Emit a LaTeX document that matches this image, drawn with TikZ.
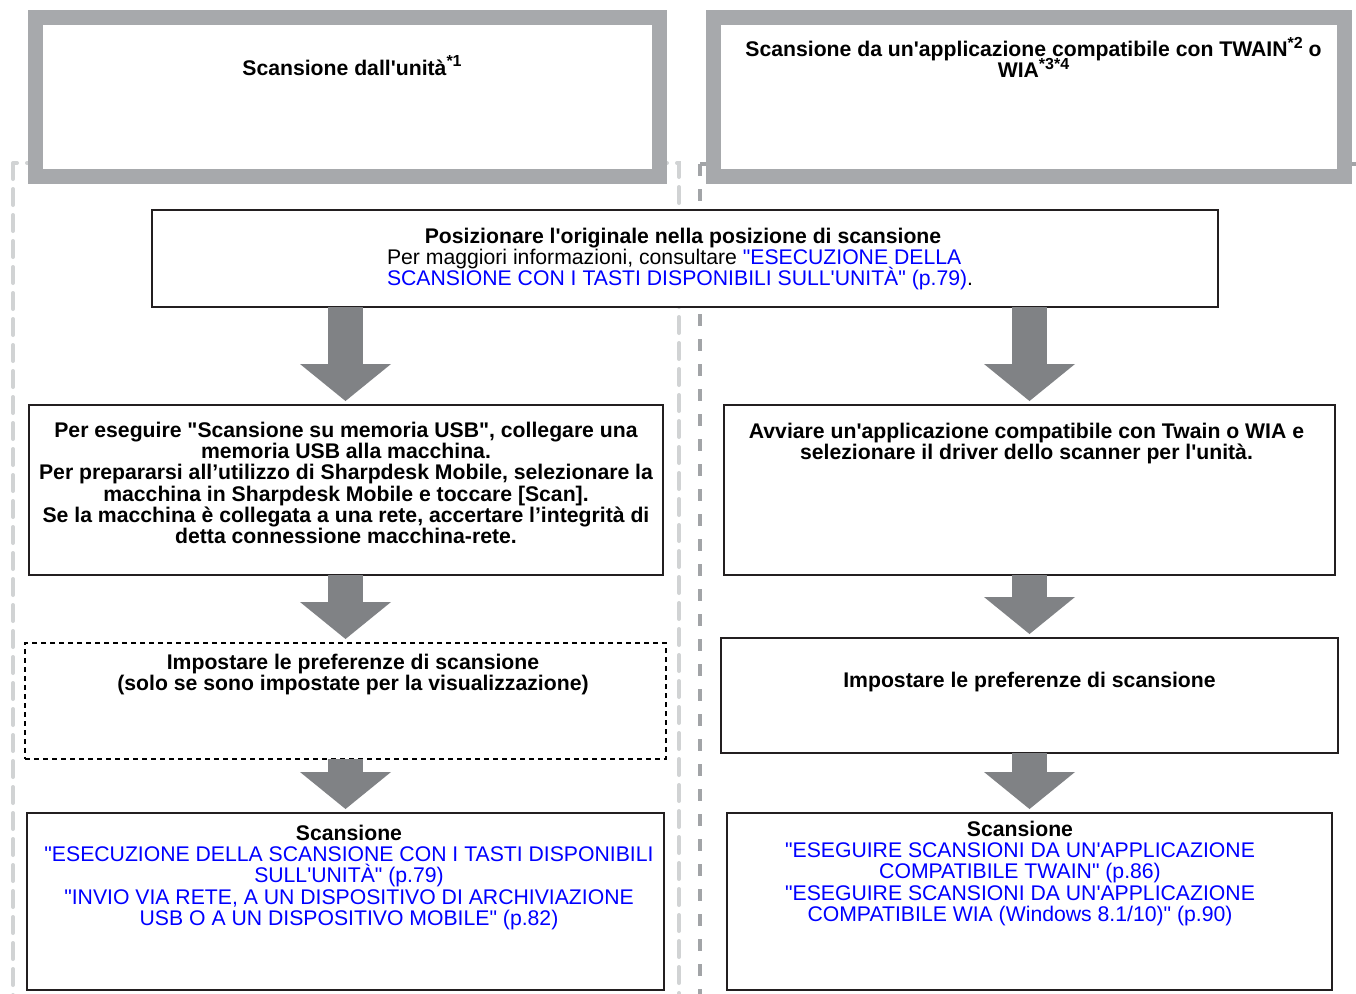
\documentclass[tikz,border=0pt]{standalone}
\usepackage{fontspec}
\newfontfamily\lsans{Liberation Sans}
\usetikzlibrary{arrows.meta}
\definecolor{hdrgray}{HTML}{A7A9AC}
\definecolor{arrgray}{HTML}{808285}
\definecolor{lightdash}{HTML}{D1D3D4}
\definecolor{darkdash}{HTML}{A2A4A7}
\definecolor{boxline}{HTML}{231F20}
\definecolor{linkblue}{HTML}{0000FF}
\newcommand{\lk}[1]{\textcolor{linkblue}{#1}}
\newcommand{\nolsk}{\setlength{\lineskiplimit}{-50pt}}
\newcommand{\sups}[1]{\raisebox{4.2pt}{\fontsize{8}{8}\selectfont #1}}
\begin{document}
\begin{tikzpicture}[x=0.5pt,y=-0.5pt,
  every node/.style={inner sep=0pt, outer sep=0pt},
  header/.style={draw=hdrgray, line width=7.5pt, fill=white, rectangle, minimum height=79.5pt},
  stepbox/.style={draw=boxline, line width=1.25pt, fill=white, rectangle},
  dotbox/.style={draw=black, line width=1pt, dash pattern=on 2.6pt off 1.9pt, fill=white, rectangle},
  btxt/.style={align=center, font={\lsans\bfseries\fontsize{10.6}{10.65}\selectfont\nolsk}},
  ntxt/.style={align=center, font={\lsans\fontsize{10.6}{10.65}\selectfont\nolsk}},
  blockarrow/.style={draw=arrgray, line width=17.5pt, -{Triangle[length=18.5pt,width=45.5pt,line width=0pt]}, shorten >=2pt},
  groupL/.style={draw=lightdash, line width=2pt, line cap=round, dash pattern=on 8pt off 5pt},
  groupR/.style={draw=darkdash, line width=2pt, dash pattern=on 6pt off 6.5pt}
]
\useasboundingbox (0,0) rectangle (1356,993);
\clip (0,0) rectangle (1356,993);

% groups
\draw[groupL] (13,163) rectangle (679,1020);
\draw[groupR] (700,164) rectangle (1362,1020);

% headers
\node[header, minimum width=312pt] (H1) at (347.5,97) {};
\node[header, minimum width=315.5pt] (H2) at (1029,97) {};
\node[btxt, anchor=base] (h1t) at (352,75) {Scansione dall'unità\sups{*1}};
\node[btxt, anchor=north] (h2t) at (1033.5,37) {Scansione da un'applicazione compatibile con TWAIN\sups{*2} o\\WIA\sups{*3*4}};

% column coordinates
\coordinate (colL) at (345.5,0);
\coordinate (colR) at (1029.5,0);

% boxes
\node[stepbox, minimum width=533pt, minimum height=48.5pt] (A) at (685,258.5) {};
\node[stepbox, minimum width=317pt, minimum height=85pt] (B) at (346,490) {};
\node[dotbox, minimum width=320.5pt, minimum height=58pt] (C) at (345.5,701) {};
\node[stepbox, minimum width=318.5pt, minimum height=88.5pt] (D) at (345.5,901.5) {};
\node[stepbox, minimum width=305.5pt, minimum height=85pt] (E) at (1029.5,490) {};
\node[stepbox, minimum width=308.5pt, minimum height=57.5pt] (F) at (1029.5,695.5) {};
\node[stepbox, minimum width=302.5pt, minimum height=88.5pt] (G) at (1029.5,901.5) {};

% arrows
\draw[blockarrow] (A.south -| colL) -- (B.north -| colL);
\draw[blockarrow] (B.south -| colL) -- (C.north -| colL);
\draw[blockarrow] (C.south -| colL) -- (D.north -| colL);
\draw[blockarrow] (A.south -| colR) -- (E.north -| colR);
\draw[blockarrow] (E.south -| colR) -- (F.north -| colR);
\draw[blockarrow] (F.south -| colR) -- (G.north -| colR);

% texts
\node[btxt, anchor=base] (at1) at (683,243) {Posizionare l'originale nella posizione di scansione};
\node[ntxt, align=left, anchor=north west] (at2) at (387,249) {Per maggiori informazioni, consultare \lk{"ESECUZIONE DELLA}\\\lk{SCANSIONE CON I TASTI DISPONIBILI SULL'UNITÀ" (p.79)}.};

\node[btxt, anchor=north] (bt) at (346,422) {Per eseguire "Scansione su memoria USB", collegare una\\memoria USB alla macchina.\\Per prepararsi all’utilizzo di Sharpdesk Mobile, selezionare la\\macchina in Sharpdesk Mobile e toccare [Scan].\\Se la macchina è collegata a una rete, accertare l’integrità di\\detta connessione macchina-rete.};

\node[btxt, anchor=north] (ct) at (353,654) {Impostare le preferenze di scansione\\(solo se sono impostate per la visualizzazione)};

\node[ntxt, anchor=north] (dt) at (349,825) {\textbf{Scansione}\\\lk{"ESECUZIONE DELLA SCANSIONE CON I TASTI DISPONIBILI}\\\lk{SULL'UNITÀ" (p.79)}\\\lk{"INVIO VIA RETE, A UN DISPOSITIVO DI ARCHIVIAZIONE}\\\lk{USB O A UN DISPOSITIVO MOBILE" (p.82)}};

\node[btxt, anchor=north] (et) at (1026.5,423) {Avviare un'applicazione compatibile con Twain o WIA e\\selezionare il driver dello scanner per l'unità.};

\node[btxt, anchor=base] (ft) at (1029.5,687) {Impostare le preferenze di scansione};

\node[ntxt, anchor=north] (gt) at (1020,821) {\textbf{Scansione}\\\lk{"ESEGUIRE SCANSIONI DA UN'APPLICAZIONE}\\\lk{COMPATIBILE TWAIN" (p.86)}\\\lk{"ESEGUIRE SCANSIONI DA UN'APPLICAZIONE}\\\lk{COMPATIBILE WIA (Windows 8.1/10)" (p.90)}};
\end{tikzpicture}
\end{document}
